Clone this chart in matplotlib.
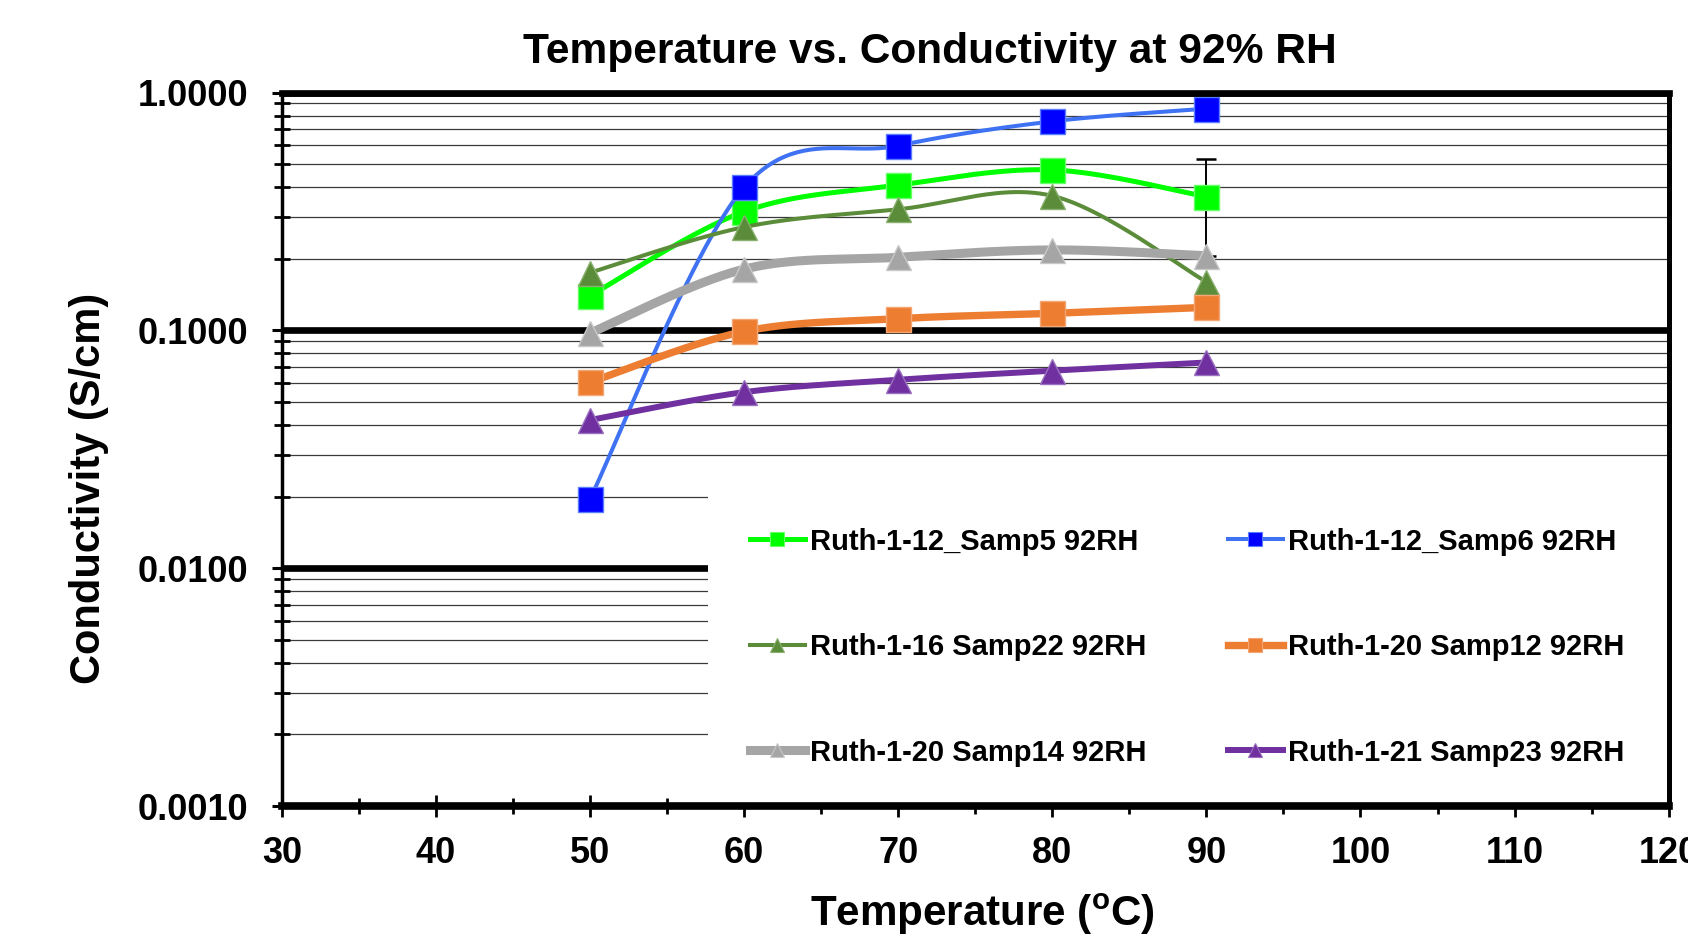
import numpy as np
import matplotlib
matplotlib.use('Agg')
import matplotlib.pyplot as plt
from matplotlib.lines import Line2D
from matplotlib.patches import Rectangle
from matplotlib.ticker import FixedLocator, LogLocator, FuncFormatter, NullFormatter, MultipleLocator

plt.rcParams['font.family'] = ['Liberation Sans', 'DejaVu Sans']
plt.rcParams['font.weight'] = 'bold'
plt.rcParams['mathtext.fontset'] = 'custom'
plt.rcParams['mathtext.rm'] = 'Liberation Sans:bold'
plt.rcParams['mathtext.bf'] = 'Liberation Sans:bold'

# ---------------- data ----------------
temps = [50, 60, 70, 80, 90]
samp5 = [0.140, 0.316, 0.408, 0.473, 0.365]
samp5_err = [0.015, 0.0, 0.0, 0.0, 0.16]
samp6 = [0.0196, 0.400, 0.598, 0.757, 0.856]
samp22 = [0.175, 0.272, 0.323, 0.368, 0.160]
samp12 = [0.0606, 0.099, 0.112, 0.118, 0.125]
samp14 = [0.0975, 0.181, 0.203, 0.218, 0.206]
samp23 = [0.042, 0.055, 0.062, 0.0677, 0.0733]
labels = ["Ruth-1-12_Samp5 92RH", "Ruth-1-12_Samp6 92RH", "Ruth-1-16 Samp22 92RH",
          "Ruth-1-20 Samp12 92RH", "Ruth-1-20 Samp14 92RH", "Ruth-1-21 Samp23 92RH"]
xticks = list(range(30, 121, 10))
yticks = [0.001, 0.01, 0.1, 1.0]

# ---------------- styles ----------------
series = [
    # values, line color, line width, marker, marker face, marker edge
    (samp5, '#00FF00', 3.6, 's', '#00FF00', '#66FF66'),
    (samp6, '#3F72F2', 2.9, 's', '#0000FF', '#5A7CFF'),
    (samp22, '#5B8C3A', 2.9, '^', '#5B8C3A', '#8AB070'),
    (samp12, '#ED7D31', 5.3, 's', '#ED7D31', '#F4A774'),
    (samp14, '#A5A5A5', 6.5, '^', '#A5A5A5', '#C8C8C8'),
    (samp23, '#7030A0', 4.3, '^', '#7030A0', '#9A70C0'),
]


def smooth(x, y, n=50):
    x = np.asarray(x, float)
    ly = np.log10(np.asarray(y, float))
    P = np.column_stack([x, ly])
    pts = np.vstack([P[0], P, P[-1]])
    out = []
    t = np.linspace(0, 1, n)[:, None]
    for i in range(1, len(pts) - 2):
        p0, p1, p2, p3 = pts[i - 1], pts[i], pts[i + 1], pts[i + 2]
        b1 = p1 + (p2 - p0) / 6.0
        b2 = p2 - (p3 - p1) / 6.0
        seg = (1 - t) ** 3 * p1 + 3 * (1 - t) ** 2 * t * b1 + 3 * (1 - t) * t ** 2 * b2 + t ** 3 * p2
        out.append(seg if i == 1 else seg[1:])
    s = np.vstack(out)
    return s[:, 0], 10 ** s[:, 1]


W, H = 1688, 940
fig = plt.figure(figsize=(W / 100, H / 100), dpi=100)
x0, x1, y0, y1 = 282, 1668.6, 92.6, 806
ax = fig.add_axes([x0 / W, 1 - y1 / H, (x1 - x0) / W, (y1 - y0) / H])

ax.set_yscale('log')
ax.set_xlim(30, 120)
ax.set_ylim(0.001, 1.0)

# gridlines
ax.yaxis.set_major_locator(FixedLocator(yticks))
ax.yaxis.set_minor_locator(LogLocator(base=10, subs=np.arange(2, 10)))
ax.yaxis.set_major_formatter(FuncFormatter(lambda v, p: f"{v:.4f}"))
ax.yaxis.set_minor_formatter(NullFormatter())
ax.set_axisbelow(True)
ax.grid(True, axis='y', which='major', color='black', linewidth=4.8)
ax.grid(True, axis='y', which='minor', color='#3a3a3a', linewidth=0.9)
ax.grid(False, axis='x')

ax.xaxis.set_major_locator(FixedLocator(xticks))
ax.xaxis.set_minor_locator(MultipleLocator(5))

# white legend area covering grid
ax.add_patch(Rectangle(((708 - x0) / (x1 - x0), 0), 1.0, (y1 - 470) / (y1 - y0),
                       transform=ax.transAxes, facecolor='white', edgecolor='none', zorder=1.5))

# error bars
ax.errorbar(temps, samp5, yerr=samp5_err, fmt='none', ecolor='black', elinewidth=1.4,
            capsize=7, capthick=1.8, zorder=2)

z = 3
for vals, lc, lw, mk, mf, me in series:
    xs, ys = smooth(temps, vals)
    ax.plot(xs, ys, color=lc, linewidth=lw, solid_capstyle='round', zorder=z)
    ax.plot(temps, vals, linestyle='none', marker=mk, markersize=18, markerfacecolor=mf,
            markeredgecolor=me, markeredgewidth=1.0, zorder=z + 0.5)
    z += 1

# spines
for side, lw in [('top', 4.8), ('bottom', 5.5), ('left', 2.5), ('right', 3.6)]:
    ax.spines[side].set_linewidth(lw)
    ax.spines[side].set_color('black')
    ax.spines[side].set_zorder(20)

ax.tick_params(axis='y', which='major', direction='inout', length=14.4, width=2.2, pad=17,
               labelsize=26, colors='black')
ax.tick_params(axis='y', which='minor', direction='inout', length=11.5, width=2.0)
ax.tick_params(axis='x', which='major', direction='inout', length=16, width=2.0, pad=13.5,
               labelsize=26)
ax.tick_params(axis='x', which='minor', direction='inout', length=12, width=2.0)
for lab in ax.get_xticklabels() + ax.get_yticklabels():
    lab.set_fontweight('bold')

# titles
fig.text(930 / W, 1 - 51.5 / H, "Temperature vs. Conductivity at 92% RH", ha='center', va='center',
         fontsize=30.6, fontweight='bold')
fig.text(982 / W, 1 - 914 / H, r"Temperature ($^{\mathbf{o}}$C)", ha='center', va='center',
         fontsize=30.3, fontweight='bold')
fig.text(89 / W, 1 - 488 / H, "Conductivity (S/cm)", ha='center', va='center', rotation=90,
         fontsize=30, fontweight='bold')

# legend (row-major order -> reorder for column filling)
handles = []
for vals, lc, lw, mk, mf, me in series:
    handles.append(Line2D([], [], color=lc, linewidth=lw, marker=mk, markersize=10,
                          markerfacecolor=mf, markeredgecolor=me, markeredgewidth=0.8))
order = [0, 2, 4, 1, 3, 5]
leg = fig.legend([handles[i] for i in order], [labels[i] for i in order], ncol=2,
                 loc='upper left', bbox_to_anchor=(750 / W, 1 - 527.5 / H),
                 bbox_transform=fig.transFigure, frameon=False, borderpad=0, borderaxespad=0,
                 handlelength=1.88, handletextpad=0.17, columnspacing=2.8,
                 labelspacing=2.66, prop={'weight': 'bold', 'size': 21})
leg.set_zorder(30)

fig.savefig('out.png', dpi=100)
